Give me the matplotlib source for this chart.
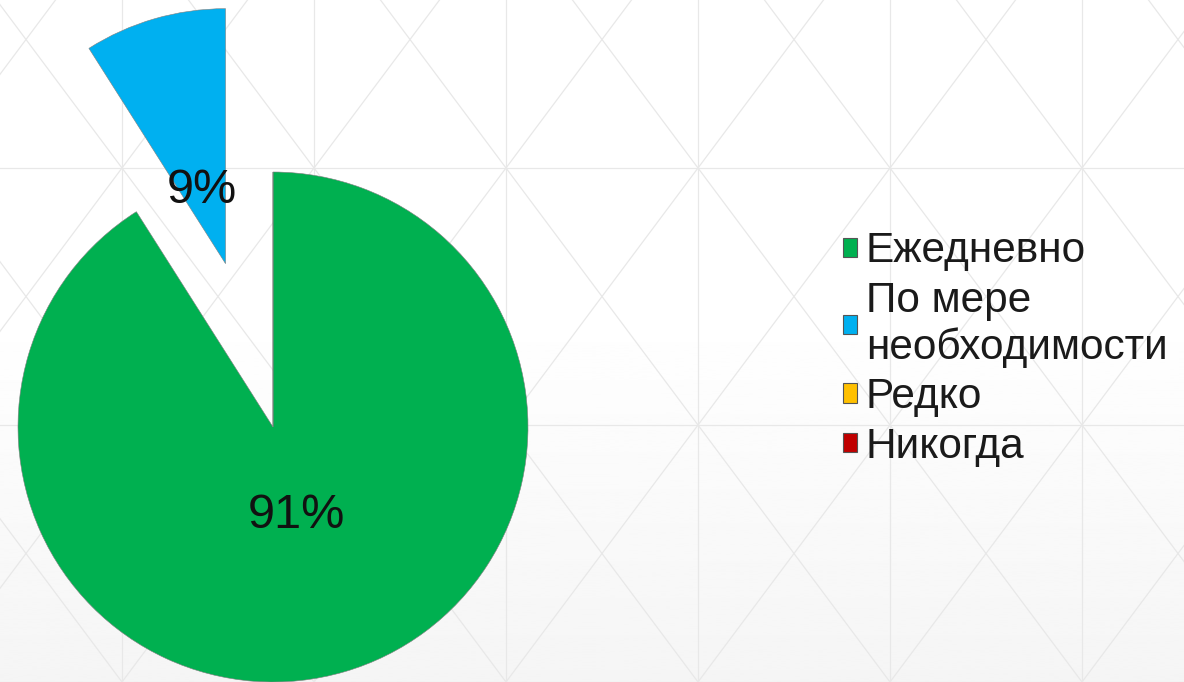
import numpy as np
import matplotlib
matplotlib.use('Agg')
from matplotlib import pyplot as plt

plt.rcParams['font.family'] = ['Liberation Sans', 'DejaVu Sans']

# данные
labels = ['Ежедневно', 'По мере\nнеобходимости', 'Редко', 'Никогда']
values = [91, 9, 0, 0]
colors = ['#00B050', '#00B0F0', '#FFC000', '#C00000']
explode = [0, 0.667, 0, 0]

W, H = 1184, 682
fig = plt.figure(figsize=(W / 100, H / 100), dpi=100)

# фон: лёгкий градиент + решётка из треугольников
bg = fig.add_axes([0, 0, 1, 1], zorder=0)
bg.axis('off')
grad = np.linspace(0, 1, 256).reshape(-1, 1)
grad = np.clip((grad - 0.45) / 0.55, 0, 1)
bg.imshow(1 - 0.04 * grad, cmap='gray', vmin=0, vmax=1, extent=[0, W, H, 0], aspect='auto')
dx, dy = 192, 257
x0, y0 = 122, 168
line_kw = dict(color='#e8e8e8', lw=0.9, zorder=1)
for x in np.arange(x0 - dx, W + dx, dx):
    bg.plot([x, x], [0, H], **line_kw)
for y in np.arange(y0 - dy, H + dy, dy):
    bg.plot([0, W], [y, y], **line_kw)
s = dy / dx
xs = np.array([-W, 2 * W])
for k in range(-20, 20):
    c = y0 - s * x0 + k * dy
    bg.plot(xs, s * xs + c, **line_kw)
    c2 = y0 + s * x0 + k * dy
    bg.plot(xs, -s * xs + c2, **line_kw)
bg.set_xlim(0, W)
bg.set_ylim(H, 0)

# круговая диаграмма
ax = fig.add_axes([0, 0, 1, 1], zorder=2)
ax.patch.set_alpha(0)
r_px = 255
cx, cy = 273, 427


def fmt(p):
    return '%d%%' % round(p) if p > 0.5 else ''


wedges, texts, autotexts = ax.pie(
    values, colors=colors, explode=explode, startangle=90, counterclock=False,
    autopct=fmt, pctdistance=0.33, radius=1,
    wedgeprops=dict(edgecolor='#7f7f7f', linewidth=0.4),
    textprops=dict(fontsize=35, color='#111111'))
for t in autotexts:
    x, y = t.get_position()
    t.set_position((x, y - 8 / r_px))
ax.set_xlim(-cx / r_px, (W - cx) / r_px)
ax.set_ylim(-(H - cy) / r_px, cy / r_px)
ax.axis('off')

leg = fig.legend(wedges, labels, loc='center left',
                 bbox_to_anchor=(843 / W, (H - 349) / H),
                 frameon=False, fontsize=30.5, handlelength=0.32, handleheight=0.32,
                 handletextpad=0.22, labelspacing=0.22, borderpad=0, borderaxespad=0)
for t in leg.get_texts():
    t.set_color('#1a1a1a')
for h in leg.legend_handles:
    h.set_edgecolor('#555555')
    h.set_linewidth(0.8)

fig.savefig('out.png', dpi=100)
